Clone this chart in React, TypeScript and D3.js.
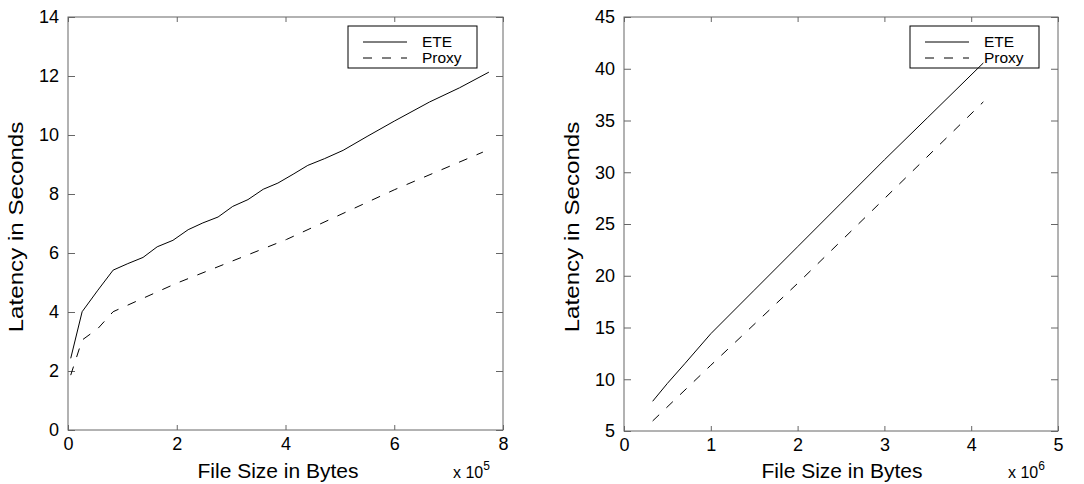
import { useEffect, useRef } from "react";
import * as d3 from "d3";

// left panel: file sizes up to 8 x 10^5 bytes
const leftEteSizes = [
  5000, 26000, 55000, 83000, 110000, 138000, 164000, 193000, 221000, 248000,
  276000, 303000, 331000, 359000, 386000, 414000, 441000, 472000, 506000,
  550000, 600000, 665000, 720000, 774000,
];
const leftEteLatency = [
  2.43, 4.01, 4.74, 5.42, 5.64, 5.85, 6.21, 6.43, 6.79, 7.02, 7.22, 7.58, 7.81,
  8.16, 8.37, 8.67, 8.97, 9.2, 9.48, 9.95, 10.47, 11.12, 11.6, 12.13,
];
const leftProxySizes = [5000, 26000, 55000, 83000, 199000, 402000, 601000, 763000];
const leftProxyLatency = [1.86, 3.05, 3.44, 4.01, 4.97, 6.46, 8.15, 9.42];

// right panel: file sizes up to 5 x 10^6 bytes
const rightEteSizes = [
  330000, 500000, 700000, 1000000, 1500000, 2000000, 2500000, 3000000, 3500000,
  4140000,
];
const rightEteLatency = [7.87, 9.6, 11.5, 14.4, 18.6, 22.8, 27.0, 31.2, 35.3, 40.56];
const rightProxySizes = [330000, 1000000, 2000000, 3000000, 4140000];
const rightProxyLatency = [5.97, 11.35, 19.26, 27.45, 36.8];

const leftXTicks = [0, 200000, 400000, 600000, 800000];
const leftYTicks = [0, 2, 4, 6, 8, 10, 12, 14];
const rightXTicks = [0, 1000000, 2000000, 3000000, 4000000, 5000000];
const rightYTicks = [5, 10, 15, 20, 25, 30, 35, 40, 45];

const seriesNames = ["ETE", "Proxy"];
const xLabel = "File Size in Bytes";
const yLabel = "Latency in Seconds";

const FONT = "'Liberation Sans', Arial, Helvetica, sans-serif";
const AXIS_COLOR = "#666";
const DASH = "9,10";

const Panel = ({ svgRef, box, xDomain, yDomain, xTicks, yTicks, expo, ete, proxy, legendX, xLabelX }) => {
  useEffect(() => {
    const root = d3.select(svgRef.current);
    const g = root.append("g");

    const xScale = d3.scaleLinear().domain(xDomain).range([box.x0, box.x1]);
    const yScale = d3.scaleLinear().domain(yDomain).range([box.y1, box.y0]);
    const div = Math.pow(10, expo);

    // bottom axis with labels
    const bottom = g
      .append("g")
      .attr("transform", `translate(0, ${box.y1})`)
      .call(
        d3
          .axisBottom(xScale)
          .tickValues(xTicks)
          .tickSize(-5)
          .tickPadding(7)
          .tickFormat((d) => d3.format("d")(d / div))
      );
    // top axis, ticks only
    const top = g
      .append("g")
      .attr("transform", `translate(0, ${box.y0})`)
      .call(d3.axisTop(xScale).tickValues(xTicks).tickSize(-5).tickFormat(() => ""));
    const left = g
      .append("g")
      .attr("transform", `translate(${box.x0}, 0)`)
      .call(d3.axisLeft(yScale).tickValues(yTicks).tickSize(-7).tickPadding(9));
    const right = g
      .append("g")
      .attr("transform", `translate(${box.x1}, 0)`)
      .call(d3.axisRight(yScale).tickValues(yTicks).tickSize(-7).tickFormat(() => ""));

    [bottom, top, left, right].forEach((a) => {
      a.select(".domain").remove();
      a.selectAll("line").attr("stroke", AXIS_COLOR);
      a.selectAll("text")
        .attr("fill", "#000")
        .style("font-family", FONT)
        .style("font-size", "18px");
    });

    // frame
    g.append("rect")
      .attr("x", box.x0)
      .attr("y", box.y0)
      .attr("width", box.x1 - box.x0)
      .attr("height", box.y1 - box.y0)
      .attr("fill", "none")
      .attr("stroke", AXIS_COLOR)
      .attr("stroke-width", 1);

    // legend (drawn under the data lines, as in the original)
    const lg = g.append("g").attr("transform", `translate(${legendX}, 26)`);
    lg.append("rect")
      .attr("width", 129)
      .attr("height", 42)
      .attr("fill", "#fff")
      .attr("stroke", "#000")
      .attr("stroke-width", 1);
    seriesNames.forEach((name, i) => {
      const yy = 16 + i * 16;
      lg.append("line")
        .attr("x1", 15)
        .attr("x2", 59)
        .attr("y1", yy)
        .attr("y2", yy)
        .attr("stroke", "#000")
        .attr("stroke-width", 1)
        .attr("stroke-dasharray", i === 1 ? DASH : null);
      lg.append("text")
        .attr("x", 74)
        .attr("y", yy + 5)
        .style("font-family", FONT)
        .style("font-size", "15.5px")
        .text(name);
    });

    // lines
    const line = d3
      .line()
      .x((d) => xScale(d[0]))
      .y((d) => yScale(d[1]));

    g.append("path")
      .datum(d3.zip(ete[0], ete[1]))
      .attr("d", line)
      .attr("fill", "none")
      .attr("stroke", "#000")
      .attr("stroke-width", 1);

    g.append("path")
      .datum(d3.zip(proxy[0], proxy[1]))
      .attr("d", line)
      .attr("fill", "none")
      .attr("stroke", "#000")
      .attr("stroke-width", 1)
      .attr("stroke-dasharray", DASH);

    // axis labels
    g.append("text")
      .attr("x", xLabelX)
      .attr("y", 478)
      .attr("text-anchor", "middle")
      .style("font-family", FONT)
      .style("font-size", "21px")
      .text(xLabel);

    const midY = 227;
    g.append("text")
      .attr("transform", `translate(${box.x0 - 45}, ${midY}) rotate(-90) scale(1.15, 1)`)
      .attr("text-anchor", "middle")
      .style("font-family", FONT)
      .style("font-size", "21px")
      .text(yLabel);

    // exponent
    const ex = g
      .append("text")
      .attr("x", box.x1 - 50)
      .attr("y", 478)
      .style("font-family", FONT)
      .style("font-size", "16px");
    ex.append("tspan").text("x 10");
    ex.append("tspan").attr("dy", -8).style("font-size", "12px").text(expo);

    return () => {
      g.remove();
    };
  }, []);
  return null;
};

export default function App() {
  const svgRef = useRef(null);
  return (
    <svg
      ref={svgRef}
      width={1084}
      height={484}
      style={{ position: "absolute", left: 0, top: 0, background: "#fff" }}
    >
      <Panel
        svgRef={svgRef}
        box={{ x0: 68, x1: 503, y0: 17, y1: 430 }}
        xDomain={[0, 800000]}
        yDomain={[0, 14]}
        xTicks={leftXTicks}
        yTicks={leftYTicks}
        expo={5}
        ete={[leftEteSizes, leftEteLatency]}
        proxy={[leftProxySizes, leftProxyLatency]}
        legendX={348}
        xLabelX={278}
      />
      <Panel
        svgRef={svgRef}
        box={{ x0: 624, x1: 1058, y0: 17, y1: 431 }}
        xDomain={[0, 5000000]}
        yDomain={[5, 45]}
        xTicks={rightXTicks}
        yTicks={rightYTicks}
        expo={6}
        ete={[rightEteSizes, rightEteLatency]}
        proxy={[rightProxySizes, rightProxyLatency]}
        legendX={910}
        xLabelX={842}
      />
    </svg>
  );
}
